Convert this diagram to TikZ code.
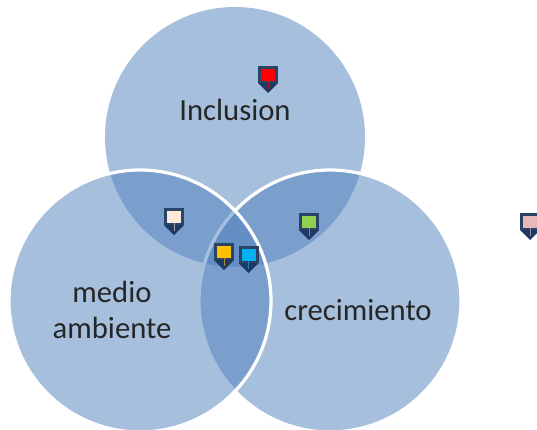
\documentclass[tikz,border=0pt]{standalone}
\usepackage{fontspec}
\setmainfont{Carlito}
\usepackage{xcolor}

\definecolor{circleblue}{HTML}{4F81BD}
\definecolor{pinnavy}{HTML}{2A4468}
\definecolor{pindark}{HTML}{1F3864}
\definecolor{pinred}{HTML}{FF0000}
\definecolor{pinpeach}{HTML}{FDE9D9}
\definecolor{pingreen}{HTML}{92D050}
\definecolor{pinyellow}{HTML}{FFC000}
\definecolor{pinblue}{HTML}{00B0F0}
\definecolor{pinpink}{HTML}{E6B9B8}

\tikzset{
  venn/.style={fill=circleblue, fill opacity=0.5, draw=white, line width=2.3pt},
  vennlabel/.style={font=\fontsize{21.8}{25}\selectfont, text=black!85, align=center, inner sep=0pt},
}

% x, y (top of the pin), colour
\newcommand{\pin}[3]{
  \fill[pinnavy] (#1-10,#2) rectangle (#1+10,#2+17);
  \fill[pindark] (#1-10,#2+17) -- (#1+10,#2+17) -- (#1,#2+27) -- cycle;
  \fill[#3] (#1-7,#2+3) rectangle (#1+7,#2+14.5);
  \draw[#3!60!pinnavy, line width=0.4pt] (#1,#2+14.5) -- (#1,#2+23);
}

\begin{document}
\begin{tikzpicture}[x=0.025cm, y=-0.025cm]
\clip (0,0) rectangle (537,429);

\fill[white] (0,0) rectangle (537,429);

\fill[circleblue, fill opacity=0.5] (235,137) circle[radius=130];
\draw[venn] (330,301) circle[radius=131];
\draw[venn] (140,301) circle[radius=131];

\node[vennlabel] (inclusion) at (235,110) {Inclusion};
\node[vennlabel] (medio) at (112,310) {medio\\ambiente};
\node[vennlabel] (crecimiento) at (358,310) {crecimiento};

\pin{268}{66}{pinred}
\pin{174}{208}{pinpeach}
\pin{309}{213}{pingreen}
\pin{224}{243}{pinyellow}
\pin{248.5}{246}{pinblue}
\pin{530}{213}{pinpink}
\end{tikzpicture}
\end{document}
